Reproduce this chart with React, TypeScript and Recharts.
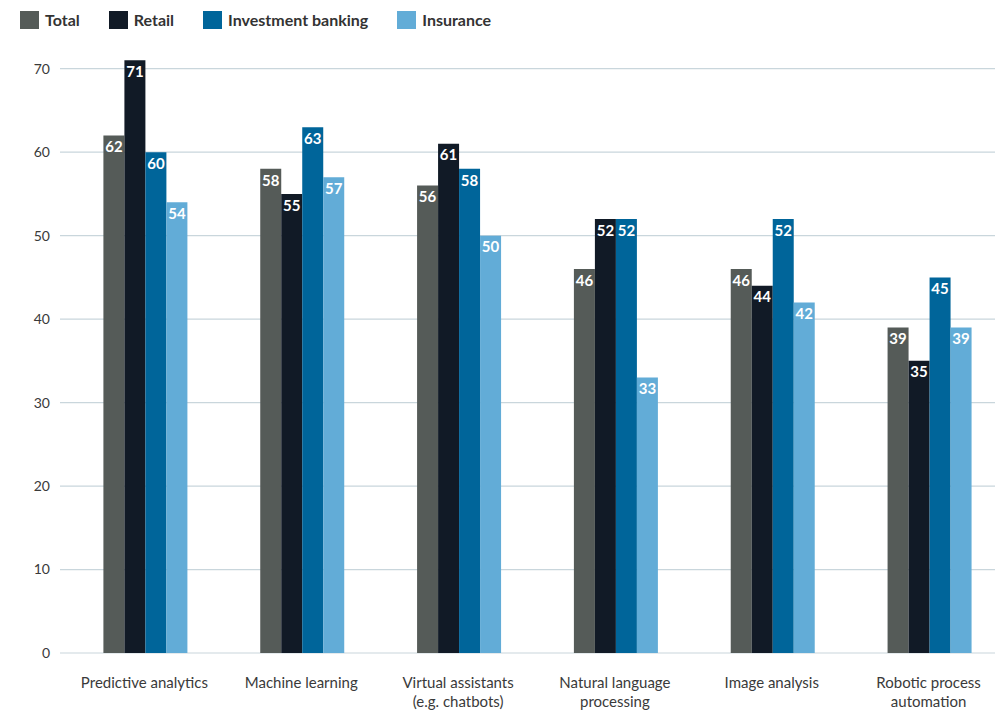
import React from "react";
import { BarChart, Bar, XAxis, YAxis, CartesianGrid, LabelList, Legend } from "recharts";

const categories = [
  "Predictive analytics",
  "Machine learning",
  "Virtual assistants|(e.g. chatbots)",
  "Natural language|processing",
  "Image analysis",
  "Robotic process|automation",
];
const total = [62, 58, 56, 46, 46, 39];
const retail = [71, 55, 61, 52, 44, 35];
const investmentBanking = [60, 63, 58, 52, 52, 45];
const insurance = [54, 57, 50, 33, 42, 39];
const yTicks = [0, 10, 20, 30, 40, 50, 60, 70];
const yMax = 72;

const seriesInfo = [
  { key: "total", name: "Total", color: "#555b58" },
  { key: "retail", name: "Retail", color: "#111a26" },
  { key: "ib", name: "Investment banking", color: "#00659a" },
  { key: "ins", name: "Insurance", color: "#62acd7" },
];

const data = categories.map((c, i) => ({
  cat: c,
  total: total[i],
  retail: retail[i],
  ib: investmentBanking[i],
  ins: insurance[i],
}));

const FONT = "Lato, 'Open Sans', sans-serif";

const XTick = (props: any) => {
  const { x, y, payload } = props;
  const lines = String(payload.value).split("|");
  return (
    <g>
      {lines.map((l: string, i: number) => (
        <text
          key={i}
          x={x}
          y={y + 35 + i * 19}
          textAnchor="middle"
          fontFamily={FONT}
          fontSize={15}
          fill="#3a3a3a"
        >
          {l}
        </text>
      ))}
    </g>
  );
};

const LegendContent = () => (
  <div
    style={{
      height: 52,
      display: "flex",
      alignItems: "flex-start",
      paddingLeft: 20,
      paddingTop: 11,
      boxSizing: "border-box",
      fontFamily: FONT,
      fontWeight: 700,
      fontSize: 16,
      color: "#333",
    }}
  >
    {seriesInfo.map((s) => (
      <div key={s.key} style={{ display: "flex", alignItems: "center", marginRight: 29 }}>
        <div style={{ width: 19, height: 18, background: s.color, marginRight: 6 }} />
        <span style={{ lineHeight: "18px" }}>{s.name}</span>
      </div>
    ))}
  </div>
);

const gridGen = (props: any) => {
  const off = props.offset || {};
  const top = off.top ?? 52;
  const h = off.height ?? 601;
  return yTicks.map((t) => top + h * (1 - t / yMax));
};

export default function App() {
  return (
    <div
      style={{
        position: "fixed",
        top: 0,
        left: 0,
        width: 995,
        height: 711,
        overflow: "hidden",
        background: "#fff",
      }}
    >
      <BarChart
        width={1007}
        height={711}
        data={data}
        margin={{ top: 0, right: 0, bottom: 0, left: 0 }}
        barCategoryGap="23.85%"
        barGap={0}
      >
        <Legend
          verticalAlign="top"
          align="left"
          content={<LegendContent />}
          wrapperStyle={{ top: 0, left: 0, width: 700 }}
        />
        <CartesianGrid
          vertical={false}
          horizontalCoordinatesGenerator={gridGen}
          stroke="#c9d6dc"
          strokeWidth={1.2}
        />
        <XAxis
          dataKey="cat"
          axisLine={false}
          tickLine={false}
          tickSize={0}
          tickMargin={0}
          height={58}
          interval={0}
          padding={{ left: 6, right: 0 }}
          tick={<XTick />}
        />
        <YAxis
          width={60}
          domain={[0, yMax]}
          ticks={yTicks}
          axisLine={false}
          tickLine={false}
          tickSize={0}
          tickMargin={10}
          tick={{ fontFamily: FONT, fontSize: 14, fill: "#3a3a3a" }}
        />
        {seriesInfo.map((s) => (
          <Bar key={s.key} dataKey={s.key} name={s.name} fill={s.color} isAnimationActive={false}>
            <LabelList
              dataKey={s.key}
              position="insideTop"
              offset={6}
              fill="#ffffff"
              fontFamily={FONT}
              fontWeight={700}
              fontSize={15}
            />
          </Bar>
        ))}
      </BarChart>
    </div>
  );
}
